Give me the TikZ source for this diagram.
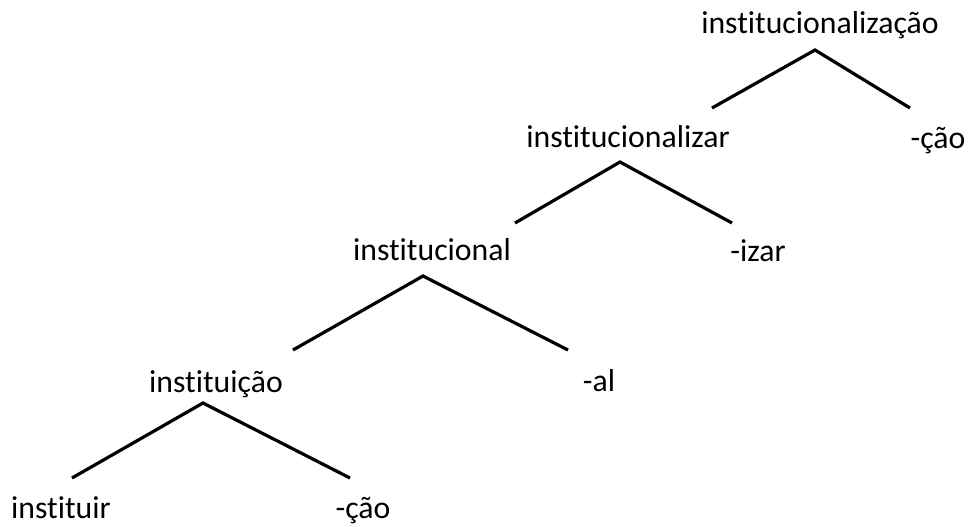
\documentclass[tikz,border=0pt]{standalone}
\usepackage{fontspec}
\setmainfont{Carlito}[Ligatures={NoCommon}]
\usetikzlibrary{positioning}
\tikzset{
  word/.style={inner sep=0pt, anchor=base, font=\fontsize{23.8}{28}\selectfont},
  branch/.style={line width=2.4pt, draw=black, line join=miter}
}

\begin{document}
\begin{tikzpicture}[x=0.75pt, y=-0.75pt]
\useasboundingbox (0,0) rectangle (970,526);

\node[word] (w1) at (820,33) {institucionalização};
\node[word] (w2) at (628,147) {institucionalizar};
\node[word] (s1) at (938,148) {-ção};
\node[word] (w3) at (432,260) {institucional};
\node[word] (s2) at (758,261) {-izar};
\node[word] (w4) at (216,392) {instituição};
\node[word] (s3) at (599,391) {-al};
\node[word] (w5) at (61,518) {instituir};
\node[word] (s4) at (363,518) {-ção};

% branch points
\coordinate (t1) at (815,50);
\coordinate (l1) at (712,108);
\coordinate (r1) at (910,108);
\coordinate (t2) at (620,162);
\coordinate (l2) at (515,223);
\coordinate (r2) at (732,223);
\coordinate (t3) at (423,276);
\coordinate (l3) at (293,350);
\coordinate (r3) at (568,350);
\coordinate (t4) at (203,403);
\coordinate (l4) at (72,478);
\coordinate (r4) at (350,478);

\draw[branch] (l1) -- (t1) -- (r1);
\draw[branch] (l2) -- (t2) -- (r2);
\draw[branch] (l3) -- (t3) -- (r3);
\draw[branch] (l4) -- (t4) -- (r4);

\end{tikzpicture}
\end{document}
